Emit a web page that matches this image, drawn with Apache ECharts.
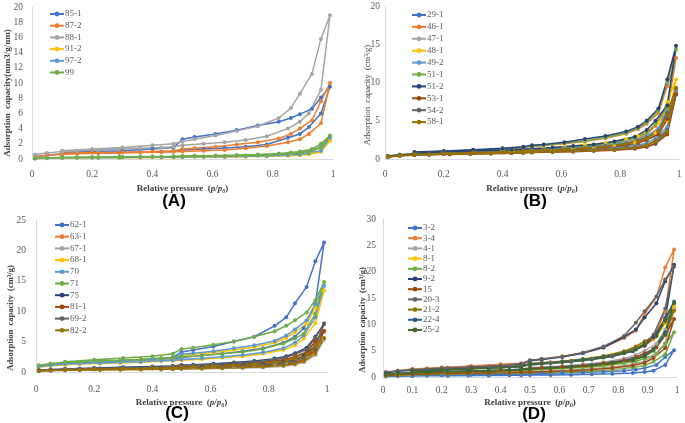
<!DOCTYPE html>
<html>
<head>
<meta charset="UTF-8">
<title>Adsorption isotherms</title>
<script src="https://cdn.jsdelivr.net/npm/echarts@6/dist/echarts.min.js"></script>
<style type="text/css">
body{margin:0;padding:0;background:#fff;}
#main{width:685px;height:423px;}
</style>
</head>
<body>
<div id="main"></div>
<script type="text/javascript">
// relative pressure points, adsorption branch then desorption branch
var adsX = [0.01, 0.05, 0.1, 0.15, 0.22, 0.29, 0.36, 0.43, 0.47, 0.5, 0.57, 0.64, 0.71, 0.78, 0.85, 0.89, 0.92, 0.96, 0.99];
var desX = [0.96, 0.93, 0.89, 0.86, 0.82, 0.75, 0.68, 0.61, 0.54, 0.5, 0.47, 0.4, 0.3, 0.2, 0.1];

// (A)
var namesA = ['85-1', '87-2', '88-1', '91-2', '97-2', '99'];
var adsA = [
  [0.3, 0.5, 0.7, 0.75, 0.8, 0.85, 0.9, 0.95, 1.0, 1.2, 1.3, 1.45, 1.6, 1.9, 2.8, 3.3, 4.2, 6.0, 9.5],
  [0.3, 0.5, 0.6, 0.7, 0.75, 0.8, 0.85, 0.9, 0.95, 1.0, 1.1, 1.2, 1.4, 1.7, 2.2, 2.6, 3.3, 4.7, 10.0],
  [0.6, 0.8, 1.0, 1.1, 1.2, 1.3, 1.4, 1.5, 1.6, 1.8, 2.0, 2.2, 2.5, 3.0, 4.0, 4.9, 6.0, 9.1, 18.9],
  [0.05, 0.1, 0.12, 0.13, 0.15, 0.17, 0.18, 0.2, 0.2, 0.22, 0.25, 0.27, 0.3, 0.35, 0.42, 0.5, 0.6, 0.95, 2.4],
  [0.08, 0.12, 0.15, 0.17, 0.18, 0.2, 0.22, 0.23, 0.24, 0.26, 0.28, 0.31, 0.35, 0.4, 0.5, 0.6, 0.75, 1.1, 2.8],
  [0.1, 0.15, 0.2, 0.22, 0.24, 0.26, 0.28, 0.3, 0.31, 0.33, 0.36, 0.4, 0.45, 0.5, 0.65, 0.8, 1.0, 1.5, 3.1]
];
var desA = [
  [8.1, 6.6, 5.9, 5.4, 4.9, 4.4, 3.8, 3.3, 2.9, 2.6, 1.5, 1.3, 1.1, 1.0, 0.9],
  [7.6, 5.1, 4.0, 3.3, 2.7, 2.2, 1.9, 1.6, 1.4, 1.3, 1.1, 1.0, 0.9, 0.85, 0.75],
  [15.8, 11.2, 8.6, 6.7, 5.4, 4.3, 3.7, 3.1, 2.6, 2.3, 2.0, 1.8, 1.5, 1.3, 1.1],
  [1.5, 0.9, 0.7, 0.6, 0.5, 0.42, 0.36, 0.32, 0.3, 0.28, 0.25, 0.22, 0.2, 0.17, 0.15],
  [1.7, 1.1, 0.85, 0.72, 0.6, 0.5, 0.42, 0.37, 0.33, 0.31, 0.28, 0.25, 0.22, 0.2, 0.17],
  [2.0, 1.3, 1.0, 0.85, 0.72, 0.6, 0.52, 0.46, 0.42, 0.4, 0.36, 0.33, 0.3, 0.26, 0.22]
];

// (B)
var namesB = ['29-1', '46-1', '47-1', '48-1', '49-2', '51-1', '51-2', '53-1', '54-2', '58-1'];
var adsB = [
  [0.3, 0.45, 0.55, 0.6, 0.65, 0.7, 0.75, 0.8, 0.85, 0.9, 0.95, 1.0, 1.1, 1.2, 1.4, 1.6, 2.0, 3.5, 8.4],
  [0.4, 0.5, 0.65, 0.75, 0.85, 0.95, 1.0, 1.1, 1.15, 1.2, 1.35, 1.5, 1.7, 2.0, 2.5, 3.2, 4.3, 6.2, 13.2],
  [0.3, 0.45, 0.55, 0.62, 0.68, 0.75, 0.8, 0.85, 0.9, 0.95, 1.0, 1.1, 1.2, 1.35, 1.6, 1.9, 2.4, 3.8, 9.0],
  [0.35, 0.5, 0.6, 0.7, 0.75, 0.82, 0.9, 0.95, 1.0, 1.05, 1.15, 1.3, 1.45, 1.7, 2.1, 2.6, 3.4, 5.0, 10.4],
  [0.3, 0.45, 0.55, 0.62, 0.7, 0.75, 0.8, 0.86, 0.9, 0.95, 1.02, 1.1, 1.25, 1.45, 1.75, 2.1, 2.7, 4.2, 8.8],
  [0.4, 0.55, 0.68, 0.78, 0.88, 0.98, 1.05, 1.15, 1.2, 1.3, 1.45, 1.6, 1.8, 2.1, 2.7, 3.4, 4.6, 6.6, 14.3],
  [0.4, 0.55, 0.7, 0.8, 0.9, 1.0, 1.1, 1.2, 1.3, 1.35, 1.5, 1.7, 1.9, 2.3, 2.9, 3.8, 5.0, 7.0, 14.8],
  [0.25, 0.4, 0.5, 0.55, 0.6, 0.65, 0.7, 0.75, 0.8, 0.85, 0.9, 0.95, 1.05, 1.15, 1.35, 1.6, 2.0, 3.2, 8.5],
  [0.3, 0.45, 0.55, 0.6, 0.66, 0.72, 0.78, 0.83, 0.88, 0.92, 0.98, 1.05, 1.15, 1.3, 1.55, 1.85, 2.4, 3.8, 9.2],
  [0.3, 0.45, 0.55, 0.6, 0.65, 0.7, 0.75, 0.8, 0.85, 0.9, 0.95, 1.02, 1.12, 1.25, 1.5, 1.8, 2.3, 3.6, 9.3]
];
var desB = [
  [5.5, 3.3, 2.5, 2.1, 1.8, 1.5, 1.3, 1.2, 1.1, 1.05, 1.0, 0.9, 0.8, 0.7, 0.6],
  [9.5, 6.0, 4.6, 3.9, 3.3, 2.7, 2.3, 2.0, 1.75, 1.65, 1.5, 1.3, 1.1, 0.95, 0.8],
  [6.0, 3.8, 2.9, 2.4, 2.1, 1.7, 1.5, 1.35, 1.2, 1.15, 1.1, 1.0, 0.9, 0.8, 0.65],
  [7.5, 4.7, 3.6, 3.0, 2.6, 2.1, 1.85, 1.6, 1.4, 1.35, 1.3, 1.15, 1.0, 0.85, 0.72],
  [6.3, 4.0, 3.0, 2.5, 2.2, 1.8, 1.55, 1.4, 1.25, 1.2, 1.15, 1.0, 0.9, 0.8, 0.65],
  [10.0, 6.3, 4.8, 4.0, 3.4, 2.8, 2.4, 2.1, 1.8, 1.7, 1.55, 1.35, 1.15, 1.0, 0.85],
  [10.4, 6.6, 5.0, 4.2, 3.6, 3.0, 2.6, 2.2, 1.9, 1.8, 1.6, 1.4, 1.2, 1.05, 0.9],
  [5.2, 3.2, 2.5, 2.1, 1.8, 1.5, 1.3, 1.15, 1.05, 1.0, 0.95, 0.85, 0.75, 0.65, 0.55],
  [6.0, 3.7, 2.8, 2.4, 2.0, 1.7, 1.45, 1.3, 1.2, 1.15, 1.1, 0.95, 0.85, 0.75, 0.62],
  [5.8, 3.6, 2.7, 2.3, 2.0, 1.65, 1.4, 1.25, 1.15, 1.1, 1.05, 0.92, 0.82, 0.72, 0.6]
];

// (C)
var namesC = ['62-1', '63-1', '67-1', '68-1', '70', '71', '75', '81-1', '69-2', '82-2'];
var adsC = [
  [1.0, 1.2, 1.4, 1.5, 1.6, 1.75, 1.9, 2.05, 2.15, 2.4, 2.7, 3.0, 3.4, 3.9, 4.8, 5.8, 7.2, 11.2, 21.3],
  [0.2, 0.3, 0.35, 0.4, 0.42, 0.45, 0.5, 0.52, 0.55, 0.6, 0.65, 0.72, 0.8, 0.95, 1.2, 1.5, 2.0, 3.5, 6.8],
  [0.15, 0.22, 0.28, 0.3, 0.33, 0.36, 0.4, 0.42, 0.45, 0.48, 0.52, 0.58, 0.65, 0.75, 0.95, 1.2, 1.6, 2.8, 5.3],
  [0.8, 1.0, 1.2, 1.3, 1.4, 1.5, 1.6, 1.75, 1.85, 1.95, 2.1, 2.35, 2.6, 3.0, 3.6, 4.4, 5.5, 8.0, 13.4],
  [0.9, 1.1, 1.3, 1.4, 1.5, 1.6, 1.7, 1.85, 1.95, 2.05, 2.25, 2.5, 2.8, 3.2, 3.9, 4.8, 6.0, 9.0, 14.2],
  [1.1, 1.4, 1.6, 1.7, 1.85, 1.95, 2.1, 2.3, 2.4, 2.5, 2.7, 3.0, 3.3, 3.8, 4.7, 5.5, 6.3, 9.6, 14.8],
  [0.3, 0.4, 0.48, 0.52, 0.56, 0.6, 0.65, 0.7, 0.72, 0.78, 0.85, 0.95, 1.1, 1.3, 1.6, 2.0, 2.7, 4.3, 7.9],
  [0.2, 0.3, 0.36, 0.4, 0.43, 0.46, 0.5, 0.53, 0.56, 0.6, 0.66, 0.74, 0.85, 1.0, 1.25, 1.55, 2.1, 3.6, 6.7],
  [0.25, 0.35, 0.42, 0.46, 0.5, 0.54, 0.58, 0.62, 0.65, 0.7, 0.76, 0.85, 0.98, 1.15, 1.45, 1.8, 2.4, 4.0, 8.0],
  [0.15, 0.25, 0.3, 0.33, 0.36, 0.4, 0.43, 0.46, 0.48, 0.52, 0.57, 0.64, 0.73, 0.86, 1.1, 1.35, 1.8, 3.1, 5.6]
];
var desC = [
  [18.2, 14.0, 11.3, 9.0, 7.6, 5.8, 5.0, 4.2, 3.6, 3.3, 2.4, 2.1, 1.9, 1.7, 1.5],
  [5.0, 3.2, 2.4, 2.0, 1.7, 1.4, 1.2, 1.05, 0.95, 0.9, 0.8, 0.7, 0.6, 0.5, 0.4],
  [4.0, 2.6, 2.0, 1.6, 1.4, 1.15, 1.0, 0.88, 0.8, 0.75, 0.65, 0.58, 0.5, 0.42, 0.35],
  [10.5, 8.0, 6.5, 5.6, 4.8, 4.1, 3.6, 3.2, 2.9, 2.7, 2.2, 2.0, 1.8, 1.6, 1.3],
  [11.2, 8.5, 7.0, 6.0, 5.1, 4.4, 3.9, 3.4, 3.1, 2.9, 2.3, 2.1, 1.9, 1.7, 1.4],
  [11.8, 9.8, 8.5, 7.6, 6.7, 5.8, 5.0, 4.5, 4.0, 3.8, 3.0, 2.6, 2.3, 2.0, 1.7],
  [5.8, 4.0, 3.1, 2.6, 2.2, 1.8, 1.55, 1.35, 1.2, 1.15, 1.0, 0.9, 0.78, 0.65, 0.5],
  [5.0, 3.3, 2.5, 2.1, 1.8, 1.45, 1.25, 1.1, 1.0, 0.95, 0.85, 0.75, 0.62, 0.52, 0.42],
  [5.6, 3.7, 2.9, 2.4, 2.0, 1.65, 1.4, 1.25, 1.12, 1.05, 0.95, 0.83, 0.7, 0.58, 0.46],
  [4.3, 2.8, 2.2, 1.8, 1.55, 1.25, 1.1, 0.95, 0.85, 0.8, 0.72, 0.63, 0.53, 0.45, 0.36]
];

// (D)
var namesD = ['3-2', '3-4', '4-1', '8-1', '8-2', '9-2', '15', '20-3', '21-2', '22-4', '25-2'];
var adsD = [
  [0.1, 0.15, 0.2, 0.22, 0.25, 0.28, 0.3, 0.33, 0.35, 0.37, 0.4, 0.45, 0.5, 0.6, 0.75, 0.95, 1.2, 2.3, 5.1],
  [0.9, 1.2, 1.5, 1.6, 1.75, 1.9, 2.05, 2.2, 2.3, 2.5, 2.8, 3.1, 3.5, 4.1, 5.0, 5.9, 7.2, 12.5, 24.2],
  [0.3, 0.45, 0.55, 0.62, 0.7, 0.78, 0.85, 0.92, 1.0, 1.05, 1.2, 1.35, 1.55, 1.85, 2.4, 3.0, 4.0, 6.4, 13.0],
  [0.4, 0.55, 0.7, 0.8, 0.9, 1.0, 1.1, 1.2, 1.3, 1.4, 1.6, 1.8, 2.1, 2.5, 3.3, 4.1, 5.4, 7.9, 13.3],
  [0.25, 0.35, 0.42, 0.48, 0.54, 0.6, 0.65, 0.7, 0.75, 0.8, 0.9, 1.0, 1.15, 1.4, 1.8, 2.2, 2.9, 4.3, 8.5],
  [0.8, 1.1, 1.3, 1.4, 1.55, 1.7, 1.85, 2.0, 2.1, 2.3, 2.6, 2.9, 3.3, 3.9, 4.9, 6.0, 7.6, 11.0, 21.3],
  [0.3, 0.4, 0.5, 0.55, 0.62, 0.7, 0.76, 0.82, 0.88, 0.93, 1.05, 1.2, 1.4, 1.7, 2.2, 2.7, 3.6, 5.5, 11.0],
  [0.9, 1.2, 1.4, 1.5, 1.65, 1.8, 1.95, 2.1, 2.2, 2.4, 2.7, 3.0, 3.4, 4.0, 5.1, 6.3, 8.0, 13.0, 21.0],
  [0.4, 0.55, 0.7, 0.8, 0.9, 1.0, 1.1, 1.2, 1.3, 1.4, 1.6, 1.8, 2.1, 2.5, 3.2, 4.0, 5.3, 8.3, 12.6],
  [0.5, 0.7, 0.85, 0.95, 1.05, 1.15, 1.25, 1.35, 1.45, 1.55, 1.75, 2.0, 2.3, 2.7, 3.4, 4.1, 5.3, 8.5, 14.3],
  [0.5, 0.65, 0.8, 0.9, 1.0, 1.1, 1.2, 1.3, 1.4, 1.5, 1.7, 1.9, 2.2, 2.6, 3.2, 3.9, 5.0, 8.0, 14.0]
];
var desD = [
  [3.8, 2.3, 1.7, 1.4, 1.2, 1.0, 0.85, 0.75, 0.68, 0.65, 0.55, 0.5, 0.42, 0.35, 0.25],
  [20.8, 15.2, 12.0, 8.8, 7.4, 5.6, 4.6, 3.9, 3.4, 3.1, 2.6, 2.4, 2.1, 1.8, 1.5],
  [9.0, 6.3, 5.0, 4.2, 3.5, 2.8, 2.4, 2.1, 1.9, 1.8, 1.5, 1.35, 1.2, 1.0, 0.8],
  [10.2, 7.6, 6.5, 5.6, 4.8, 3.9, 3.3, 2.9, 2.6, 2.45, 2.0, 1.8, 1.55, 1.35, 1.05],
  [6.3, 4.4, 3.5, 3.0, 2.6, 2.1, 1.8, 1.6, 1.45, 1.4, 1.2, 1.05, 0.9, 0.78, 0.6],
  [18.2, 14.0, 11.3, 9.0, 7.6, 5.6, 4.5, 3.8, 3.3, 3.1, 2.4, 2.1, 1.8, 1.6, 1.3],
  [8.0, 5.6, 4.5, 3.8, 3.2, 2.6, 2.2, 1.95, 1.75, 1.65, 1.4, 1.25, 1.1, 0.95, 0.75],
  [18.5, 15.3, 12.5, 10.3, 7.8, 5.8, 4.6, 3.9, 3.4, 3.2, 2.5, 2.2, 1.9, 1.7, 1.4],
  [10.5, 8.0, 6.8, 5.8, 4.9, 4.0, 3.4, 3.0, 2.7, 2.5, 2.0, 1.8, 1.6, 1.4, 1.1],
  [11.2, 8.0, 6.3, 5.3, 4.6, 3.8, 3.3, 2.9, 2.6, 2.5, 2.0, 1.8, 1.6, 1.4, 1.1],
  [10.8, 7.8, 6.2, 5.2, 4.5, 3.7, 3.2, 2.8, 2.5, 2.4, 1.95, 1.75, 1.55, 1.35, 1.05]
];

// excel style palette
var palette = ['#4472C4', '#ED7D31', '#A5A5A5', '#FFC000', '#5B9BD5', '#70AD47', '#264478', '#9E480E', '#636363', '#997300'];
var paletteD = ['#4472C4', '#ED7D31', '#A5A5A5', '#FFC000', '#70AD47', '#264478', '#9E480E', '#636363', '#997300', '#255E91', '#43682B'];

var serif = '"Liberation Serif", "Times New Roman", serif';
var tickColor = '#595959';

function loop(ads, des) {
  var pts = [];
  for (var i = 0; i < ads.length; i++) pts.push([adsX[i], ads[i]]);
  for (var j = 0; j < des.length; j++) pts.push([desX[j], des[j]]);
  return pts;
}

var panels = [
  {names: namesA, ads: adsA, des: desA, colors: palette, grid: {left: 32, top: 7, width: 301, height: 152}, ymax: 20, yint: 2, xint: 0.2, xgap: 24, lblMargin: 10, yMargin: 9,
   legend: {left: 49, top: 9, gap: 1.7}},
  {names: namesB, ads: adsB, des: desB, colors: palette, grid: {left: 385, top: 6, width: 294, height: 153}, ymax: 20, yint: 5, xint: 0.2, xgap: 24, lblMargin: 10, yMargin: 5,
   legend: {left: 411, top: 10, gap: 1.9}},
  {names: namesC, ads: adsC, des: desC, colors: palette, grid: {left: 36, top: 220, width: 291, height: 152}, ymax: 25, yint: 5, xint: 0.2, xgap: 25, lblMargin: 12, yMargin: 10,
   legend: {left: 54, top: 220, gap: 1.7}},
  {names: namesD, ads: adsD, des: desD, colors: paletteD, grid: {left: 383, top: 219, width: 294, height: 158}, ymax: 30, yint: 5, xint: 0.1, xgap: 20, lblMargin: 8, yMargin: 7,
   legend: {left: 407, top: 223, gap: 0.2}}
];

var option = {
  animation: false,
  backgroundColor: '#fff',
  grid: [], xAxis: [], yAxis: [], legend: [], series: [],
  graphic: []
};

panels.forEach(function (p, k) {
  option.grid.push(p.grid);
  option.xAxis.push({
    type: 'value', gridIndex: k, min: 0, max: 1, interval: p.xint,
    splitLine: {show: false}, axisTick: {show: false},
    axisLine: {lineStyle: {color: '#d9d9d9'}},
    axisLabel: {color: tickColor, fontFamily: serif, fontSize: 9.5, margin: p.lblMargin},
    name: 'Relative pressure  ({i|p}/{i|p}{s|0})',
    nameLocation: 'middle', nameGap: p.xgap,
    nameTextStyle: {
      fontFamily: serif, fontWeight: 'bold', fontSize: 9, color: '#404040',
      rich: {
        i: {fontFamily: serif, fontWeight: 'bold', fontStyle: 'italic', fontSize: 9, color: '#404040'},
        s: {fontFamily: serif, fontWeight: 'bold', fontStyle: 'italic', fontSize: 6, color: '#404040', padding: [5, 0, 0, 0]}
      }
    }
  });
  option.yAxis.push({
    type: 'value', gridIndex: k, min: 0, max: p.ymax, interval: p.yint,
    splitLine: {show: false}, axisTick: {show: false},
    axisLine: {show: true, lineStyle: {color: '#d9d9d9'}},
    axisLabel: {color: tickColor, fontFamily: serif, fontSize: 9.5, margin: p.yMargin}
  });
  option.legend.push({
    data: p.names, orient: 'vertical', left: p.legend.left, top: p.legend.top,
    itemGap: p.legend.gap, itemWidth: 14, itemHeight: 6, padding: 0,
    textStyle: {fontFamily: serif, fontSize: 9, color: tickColor, lineHeight: 10, padding: [0, 0, 0, -4]},
    selectedMode: false
  });
  p.names.forEach(function (n, i) {
    option.series.push({
      name: n, type: 'line', xAxisIndex: k, yAxisIndex: k,
      data: loop(p.ads[i], p.des[i]),
      symbol: 'circle', symbolSize: 4, showSymbol: true,
      color: p.colors[i],
      lineStyle: {width: 1.5, color: p.colors[i]},
      itemStyle: {color: p.colors[i]},
      emphasis: {disabled: true}
    });
  });
});

// y axis titles and panel letters
function yTitle(x, y, txt, bold, size) {
  return {
    type: 'text', x: x, y: y, rotation: Math.PI / 2,
    style: {text: txt, font: (bold ? 'bold ' : '') + size + 'px ' + serif, fill: '#404040', align: 'center', verticalAlign: 'middle'}
  };
}
function letter(x, y, txt) {
  return {
    type: 'text', x: x, y: y,
    style: {text: txt, font: 'bold 17px "Liberation Sans", Arial, sans-serif', fill: '#000', align: 'center', verticalAlign: 'middle'}
  };
}
option.graphic = [
  yTitle(8, 93, 'Adsorption  capacity(mm3/g/nm)', true, 9),
  yTitle(368, 95, 'Adsorption  capacity  (cm\u00b3/g)', false, 8.5),
  yTitle(11, 318, 'Adsorption  capacity  (cm\u00b3/g)', true, 8.5),
  yTitle(363, 320, 'Adsorption  capacity  (cm\u00b3/g)', true, 8.5),
  letter(174, 201, '(A)'),
  letter(535, 201, '(B)'),
  letter(177, 413, '(C)'),
  letter(534, 414, '(D)')
];

var myChart = echarts.init(document.getElementById('main'), null, {renderer: 'canvas'});
myChart.setOption(option);
</script>
</body>
</html>
